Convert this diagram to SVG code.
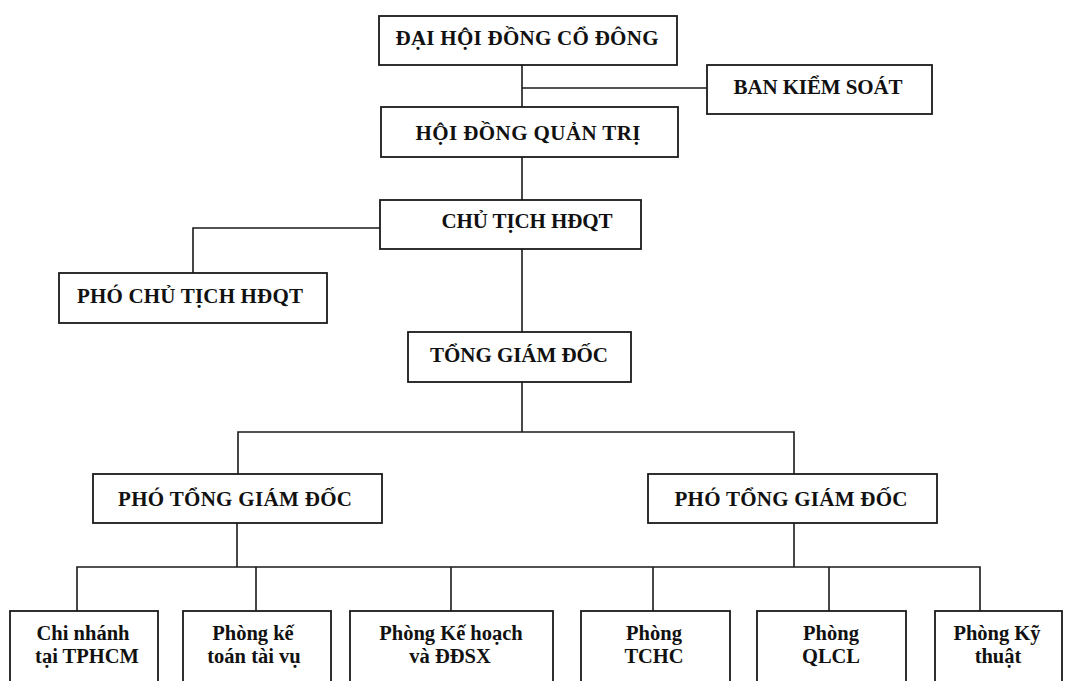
<svg xmlns="http://www.w3.org/2000/svg" width="1071" height="681" viewBox="0 0 1071 681">
<style>
.box{fill:#fff;stroke:#1a1a1a;stroke-width:1.8}
.t{font-family:"Liberation Serif","Times New Roman",serif;font-weight:bold;font-size:21px;fill:#111;text-anchor:middle}
.s{font-family:"Liberation Serif","Times New Roman",serif;font-weight:bold;font-size:20.5px;fill:#111;text-anchor:middle}
.c{fill:none;stroke:#1a1a1a;stroke-width:1.6}
</style>
<rect x="0" y="0" width="1071" height="681" fill="#fff"/>
<g id="connectors" class="c">
<path d="M522 65V107"/>
<path d="M522 88H707"/>
<path d="M522 157V200"/>
<path d="M380 228H193V273"/>
<path d="M522 249V332"/>
<path d="M522 382V432"/>
<path d="M238 474V432H794V474"/>
<path d="M237 523V567"/>
<path d="M794 523V567"/>
<path d="M77 611V567H980V611"/>
<path d="M256 567V611"/>
<path d="M451 567V611"/>
<path d="M653 567V611"/>
<path d="M829 567V611"/>
</g>
<g id="dhdcd"><rect class="box" x="379" y="16" width="298" height="49"/><text class="t" x="527" y="45" textLength="263" lengthAdjust="spacing">ĐẠI HỘI ĐỒNG CỔ ĐÔNG</text></g>
<g id="bks"><rect class="box" x="707" y="65" width="225" height="49"/><text class="t" x="818" y="94" textLength="169" lengthAdjust="spacing">BAN KIỂM SOÁT</text></g>
<g id="hdqt"><rect class="box" x="381" y="107" width="297" height="50"/><text class="t" x="528" y="140" textLength="225" lengthAdjust="spacing">HỘI ĐỒNG QUẢN TRỊ</text></g>
<g id="ct"><rect class="box" x="380" y="200" width="261" height="49"/><text class="t" x="527" y="228" textLength="171" lengthAdjust="spacing">CHỦ TỊCH HĐQT</text></g>
<g id="pct"><rect class="box" x="59" y="273" width="268" height="50"/><text class="t" x="190" y="303" textLength="226" lengthAdjust="spacing">PHÓ CHỦ TỊCH HĐQT</text></g>
<g id="tgd"><rect class="box" x="408" y="332" width="223" height="50"/><text class="t" x="519" y="362" textLength="178" lengthAdjust="spacing">TỔNG GIÁM ĐỐC</text></g>
<g id="ptgd1"><rect class="box" x="93" y="474" width="289" height="49"/><text class="t" x="235" y="506" textLength="234" lengthAdjust="spacing">PHÓ TỔNG GIÁM ĐỐC</text></g>
<g id="ptgd2"><rect class="box" x="648" y="474" width="289" height="49"/><text class="t" x="791" y="506" textLength="233" lengthAdjust="spacing">PHÓ TỔNG GIÁM ĐỐC</text></g>
<g id="cn"><rect class="box" x="10" y="611" width="148" height="80"/><text class="s" x="83" y="640">Chi nhánh</text><text class="s" x="87" y="663">tại TPHCM</text></g>
<g id="pktv"><rect class="box" x="183" y="611" width="148" height="80"/><text class="s" x="253" y="640">Phòng kế</text><text class="s" x="254" y="663">toán tài vụ</text></g>
<g id="pkh"><rect class="box" x="350" y="611" width="203" height="80"/><text class="s" x="451" y="640">Phòng Kế hoạch</text><text class="s" x="450" y="663">và ĐĐSX</text></g>
<g id="tchc"><rect class="box" x="581" y="611" width="149" height="80"/><text class="s" x="654" y="640">Phòng</text><text class="s" x="654" y="663">TCHC</text></g>
<g id="qlcl"><rect class="box" x="757" y="611" width="149" height="80"/><text class="s" x="831" y="640">Phòng</text><text class="s" x="831" y="663">QLCL</text></g>
<g id="kt"><rect class="box" x="935" y="611" width="127" height="80"/><text class="s" x="997" y="640">Phòng Kỹ</text><text class="s" x="998" y="663">thuật</text></g>
</svg>
